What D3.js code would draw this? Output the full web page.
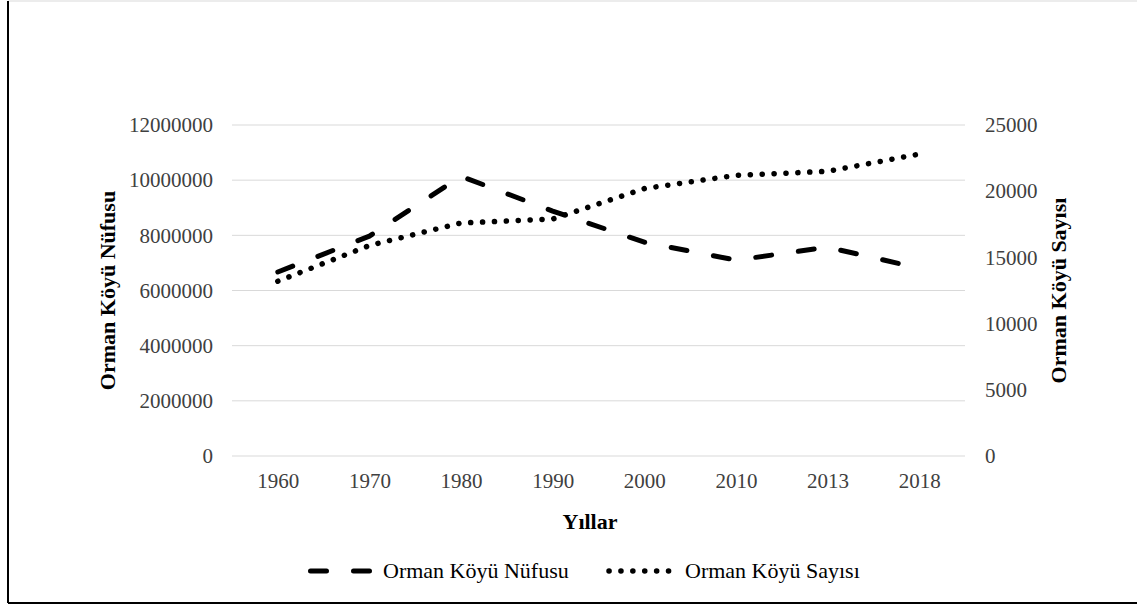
<!DOCTYPE html>
<html lang="tr">
<head>
  <meta charset="UTF-8">
  <title>Orman Köyü Nüfusu ve Sayısı</title>
  <script src="https://d3js.org/d3.v7.min.js"></script>
  <style>
    body { margin: 0; background: #fff; }
    svg { display: block; font-family: "Liberation Serif", "Times New Roman", serif; }
    .grid line { stroke: #d9d9d9; stroke-width: 1; }
    .tick text { font-size: 21px; fill: #404040; }
    .title { font-size: 22px; font-weight: bold; fill: #000; }
    .legend text { font-size: 22px; fill: #000; }
  </style>
</head>
<body>
  <div id="chart"></div>
  <script>
    // data
    const years = ["1960", "1970", "1980", "1990", "2000", "2010", "2013", "2018"];
    const nufus = [6670000, 7970000, 10140000, 8880000, 7750000, 7100000, 7570000, 6810000];
    const sayi = [13200, 15900, 17600, 17900, 20200, 21200, 21500, 22800];
    const leftTicks = [0, 2000000, 4000000, 6000000, 8000000, 10000000, 12000000];
    const rightTicks = [0, 5000, 10000, 15000, 20000, 25000];

    const width = 1137, height = 604;
    const margin = { left: 232, right: 172, top: 125, bottom: 148 };
    const plotW = width - margin.left - margin.right;
    const plotH = height - margin.top - margin.bottom;

    const svg = d3.select("#chart").append("svg")
      .attr("width", width)
      .attr("height", height);

    // outer frame
    svg.append("line").attr("x1", 8).attr("x2", width).attr("y1", 1).attr("y2", 1)
      .attr("stroke", "#d9d9d9").attr("stroke-width", 1);
    svg.append("line").attr("x1", 8).attr("x2", 8).attr("y1", 1).attr("y2", 603)
      .attr("stroke", "#000").attr("stroke-width", 2);
    svg.append("line").attr("x1", 8).attr("x2", width).attr("y1", 603).attr("y2", 603)
      .attr("stroke", "#000").attr("stroke-width", 2);

    const g = svg.append("g").attr("transform", `translate(${margin.left},${margin.top})`);

    const x = d3.scalePoint().domain(years).range([0, plotW]).padding(0.5);
    const yL = d3.scaleLinear().domain([0, 12000000]).range([plotH, 0]);
    const yR = d3.scaleLinear().domain([0, 25000]).range([plotH, 0]);

    // gridlines
    g.append("g").attr("class", "grid")
      .selectAll("line")
      .data(leftTicks)
      .enter()
      .append("line")
      .attr("x1", 0).attr("x2", plotW)
      .attr("y1", d => yL(d)).attr("y2", d => yL(d));

    // axes (no domain lines, no tick marks)
    const leftAxis = g.append("g")
      .call(d3.axisLeft(yL).tickValues(leftTicks).tickFormat(d3.format("d")).tickSize(0).tickPadding(19));
    const rightAxis = g.append("g")
      .attr("transform", `translate(${plotW},0)`)
      .call(d3.axisRight(yR).tickValues(rightTicks).tickFormat(d3.format("d")).tickSize(0).tickPadding(20));
    const bottomAxis = g.append("g")
      .attr("transform", `translate(0,${plotH})`)
      .call(d3.axisBottom(x).tickSize(0).tickPadding(17));
    [leftAxis, rightAxis, bottomAxis].forEach(a => {
      a.attr("font-family", null).attr("font-size", null);
      a.select(".domain").remove();
    });

    // axis titles
    svg.append("text").attr("class", "title")
      .attr("transform", `translate(115,${margin.top + plotH / 2}) rotate(-90)`)
      .attr("text-anchor", "middle")
      .text("Orman Köyü Nüfusu");
    svg.append("text").attr("class", "title")
      .attr("transform", `translate(1066,${margin.top + plotH / 2}) rotate(-90)`)
      .attr("text-anchor", "middle")
      .text("Orman Köyü Sayısı");
    svg.append("text").attr("class", "title")
      .attr("x", 590).attr("y", 529)
      .attr("text-anchor", "middle")
      .text("Yıllar");

    // lines
    const lineL = d3.line().x((d, i) => x(years[i])).y(d => yL(d));
    const lineR = d3.line().x((d, i) => x(years[i])).y(d => yR(d));

    const dashStyle = { width: 5, dash: "16 27" };
    const dotStyle = { width: 5.5, dash: "0.1 11.8" };

    g.append("path").datum(nufus)
      .attr("d", lineL)
      .attr("fill", "none").attr("stroke", "#000")
      .attr("stroke-width", dashStyle.width)
      .attr("stroke-dasharray", dashStyle.dash)
      .attr("stroke-linecap", "round").attr("stroke-linejoin", "round");

    g.append("path").datum(sayi)
      .attr("d", lineR)
      .attr("fill", "none").attr("stroke", "#000")
      .attr("stroke-width", dotStyle.width)
      .attr("stroke-dasharray", dotStyle.dash)
      .attr("stroke-linecap", "round").attr("stroke-linejoin", "round");

    // legend
    const legend = svg.append("g").attr("class", "legend");
    const items = [
      { name: "Orman Köyü Nüfusu", style: dashStyle, x0: 310.5, x1: 370, tx: 383 },
      { name: "Orman Köyü Sayısı", style: dotStyle, x0: 609, x1: 670, tx: 685 }
    ];
    items.forEach(it => {
      legend.append("line")
        .attr("x1", it.x0).attr("x2", it.x1).attr("y1", 571).attr("y2", 571)
        .attr("stroke", "#000").attr("stroke-width", it.style.width)
        .attr("stroke-dasharray", it.style.dash).attr("stroke-linecap", "round");
      legend.append("text").attr("x", it.tx).attr("y", 578).text(it.name);
    });
  </script>
</body>
</html>
